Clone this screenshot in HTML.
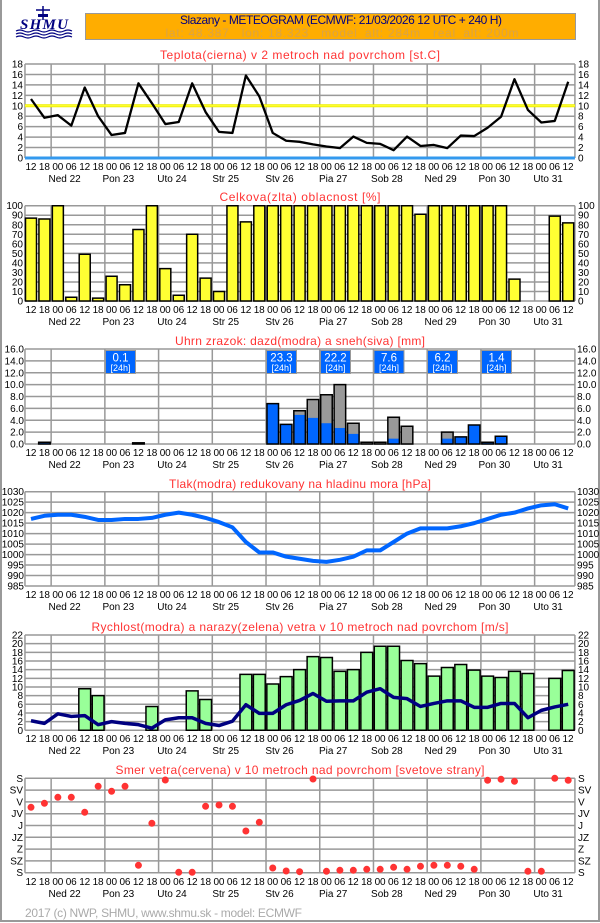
<!DOCTYPE html>
<html><head><meta charset="utf-8"><style>
html,body{margin:0;padding:0;background:#fff}
svg{display:block}
.t{font-family:"Liberation Sans",sans-serif;font-size:12px;fill:#ff3333;text-anchor:middle}
.l{font-family:"Liberation Sans",sans-serif;font-size:10px;fill:#000;text-anchor:end}
.r{font-family:"Liberation Sans",sans-serif;font-size:10px;fill:#000;text-anchor:start}
.h{font-family:"Liberation Sans",sans-serif;font-size:10px;fill:#000}
.d{font-family:"Liberation Sans",sans-serif;font-size:10px;fill:#000;text-anchor:middle}
.g{fill:none;stroke:#999;stroke-width:1.5;vector-effect:non-scaling-stroke}
.b rect,rect.b{stroke:#000;stroke-width:1.5;vector-effect:non-scaling-stroke}
</style></head><body>
<svg width="600" height="923" viewBox="0 0 600 923" xmlns="http://www.w3.org/2000/svg">
<rect x="1" y="-2" width="598" height="923" fill="none" stroke="#999" stroke-width="2"/>
<!-- logo -->
<g fill="#000080" stroke="#000080">
<line x1="43" y1="6" x2="43" y2="20" stroke-width="1.5"/>
<line x1="36" y1="10" x2="50" y2="10" stroke-width="1.5"/>
<rect x="38" y="14" width="10" height="3" stroke="none"/>
<text x="44" y="29" stroke="none" font-family="Liberation Serif,serif" font-weight="bold" font-style="italic" font-size="15" text-anchor="middle" textLength="48">SHMU</text>
<path d="M16 31q4-2 8 0t8 0t8 0t8 0t8 0t8 0t8 0M16 34q4-2 8 0t8 0t8 0t8 0t8 0t8 0t8 0M16 37q4-2 8 0t8 0t8 0t8 0t8 0t8 0t8 0" fill="none" stroke-width="1.2"/>
</g>
<!-- header -->
<rect x="85.5" y="13.5" width="490" height="26" fill="#ffad00" stroke="#999"/>
<text x="341" y="24" font-family="Liberation Sans,sans-serif" font-size="12" fill="#000080" text-anchor="middle" textLength="322">Slazany - METEOGRAM (ECMWF: 21/03/2026 12 UTC + 240 H)</text>
<text x="342" y="37" font-family="Liberation Sans,sans-serif" font-size="12" fill="#d9a347" text-anchor="middle" textLength="353" xml:space="preserve">lat: 48.387   lon: 18.323   model_alt: 284m   real_alt: 200m</text>

<!-- ============ TEMP ============ -->
<text class="t" x="300" y="59" textLength="280">Teplota(cierna) v 2 metroch nad povrchom [st.C]</text>
<g transform="translate(31,158) scale(13.43,-5.222)">
<path class="g" d="M-0.45 2H40.5M-0.45 4H40.5M-0.45 6H40.5M-0.45 8H40.5M-0.45 12H40.5M-0.45 14H40.5M-0.45 16H40.5M-0.45 18H40.5M-0.45 0V18M40.5 0V18M1.5 0V18M5.5 0V18M9.5 0V18M13.5 0V18M17.5 0V18M21.5 0V18M25.5 0V18M29.5 0V18M33.5 0V18M37.5 0V18"/>
<path d="M-0.45 10H40.5" stroke="#eeee00" stroke-width="3" vector-effect="non-scaling-stroke"/>
<path d="M-0.45 10H40.5" stroke="#ffff33" stroke-width="1.2" vector-effect="non-scaling-stroke"/>
<path d="M-0.45 0H40.5" stroke="#3399ee" stroke-width="3" vector-effect="non-scaling-stroke"/>
<polyline fill="none" stroke="#000" stroke-width="2.3" stroke-linejoin="round" vector-effect="non-scaling-stroke" points="0,11.3 1,7.7 2,8.2 3,6.2 4,13.5 5,8 6,4.4 7,4.8 8,14.3 9,10.5 10,6.5 11,6.9 12,14.3 13,8.8 14,5 15,4.8 16,15.8 17,11.8 18,4.8 19,3.3 20,3.1 21,2.6 22,2.2 23,1.9 24,4.1 25,2.9 26,2.7 27,1.5 28,4.1 29,2.3 30,2.5 31,1.9 32,4.3 33,4.2 34,5.8 35,7.9 36,15.1 37,9.2 38,6.8 39,7.1 40,14.6"/>
</g>
<g class="l"><text x="23" y="161.5">0</text><text x="23" y="151">2</text><text x="23" y="140.6">4</text><text x="23" y="130.2">6</text><text x="23" y="119.7">8</text><text x="23" y="109.3">10</text><text x="23" y="98.8">12</text><text x="23" y="88.4">14</text><text x="23" y="77.9">16</text><text x="23" y="67.5">18</text></g>
<g class="r"><text x="578" y="161.5">0</text><text x="578" y="151">2</text><text x="578" y="140.6">4</text><text x="578" y="130.2">6</text><text x="578" y="119.7">8</text><text x="578" y="109.3">10</text><text x="578" y="98.8">12</text><text x="578" y="88.4">14</text><text x="578" y="77.9">16</text><text x="578" y="67.5">18</text></g>
<text class="h" x="25.5" y="170" textLength="548" lengthAdjust="spacing">12 18 00 06 12 18 00 06 12 18 00 06 12 18 00 06 12 18 00 06 12 18 00 06 12 18 00 06 12 18 00 06 12 18 00 06 12 18 00 06 12</text>
<g class="d"><text x="64.6" y="182">Ned 22</text><text x="118.3" y="182">Pon 23</text><text x="172" y="182">Uto 24</text><text x="225.7" y="182">Str 25</text><text x="279.5" y="182">Stv 26</text><text x="333.2" y="182">Pia 27</text><text x="386.9" y="182">Sob 28</text><text x="440.6" y="182">Ned 29</text><text x="494.3" y="182">Pon 30</text><text x="548.1" y="182">Uto 31</text></g>

<!-- ============ CLOUD ============ -->
<text class="t" x="300" y="201" textLength="161">Celkova(zlta) oblacnost [%]</text>
<g transform="translate(31,301) scale(13.43,-0.953)">
<path class="g" d="M-0.45 10H40.5M-0.45 20H40.5M-0.45 30H40.5M-0.45 40H40.5M-0.45 50H40.5M-0.45 60H40.5M-0.45 70H40.5M-0.45 80H40.5M-0.45 90H40.5M-0.45 100H40.5M-0.45 0H40.5M-0.45 0V100M40.5 0V100M1.5 0V100M5.5 0V100M9.5 0V100M13.5 0V100M17.5 0V100M21.5 0V100M25.5 0V100M29.5 0V100M33.5 0V100M37.5 0V100"/>
<g fill="#ffff33" class="b">
<rect x="-0.41" width="0.82" height="87"/><rect x="0.59" width="0.82" height="86"/><rect x="1.59" width="0.82" height="100"/><rect x="2.59" width="0.82" height="4"/><rect x="3.59" width="0.82" height="49"/><rect x="4.59" width="0.82" height="3"/><rect x="5.59" width="0.82" height="26"/><rect x="6.59" width="0.82" height="17"/><rect x="7.59" width="0.82" height="75"/><rect x="8.59" width="0.82" height="100"/><rect x="9.59" width="0.82" height="34"/><rect x="10.59" width="0.82" height="6"/><rect x="11.59" width="0.82" height="70"/><rect x="12.59" width="0.82" height="24"/><rect x="13.59" width="0.82" height="10"/><rect x="14.59" width="0.82" height="100"/><rect x="15.59" width="0.82" height="83"/><rect x="16.59" width="0.82" height="100"/><rect x="17.59" width="0.82" height="100"/><rect x="18.59" width="0.82" height="100"/><rect x="19.59" width="0.82" height="100"/><rect x="20.59" width="0.82" height="100"/><rect x="21.59" width="0.82" height="100"/><rect x="22.59" width="0.82" height="100"/><rect x="23.59" width="0.82" height="100"/><rect x="24.59" width="0.82" height="100"/><rect x="25.59" width="0.82" height="100"/><rect x="26.59" width="0.82" height="100"/><rect x="27.59" width="0.82" height="100"/><rect x="28.59" width="0.82" height="91"/><rect x="29.59" width="0.82" height="100"/><rect x="30.59" width="0.82" height="100"/><rect x="31.59" width="0.82" height="100"/><rect x="32.59" width="0.82" height="100"/><rect x="33.59" width="0.82" height="100"/><rect x="34.59" width="0.82" height="100"/><rect x="35.59" width="0.82" height="23"/><rect x="38.59" width="0.82" height="89"/><rect x="39.59" width="0.82" height="82"/>
</g>
</g>
<g class="l"><text x="23" y="304.5">0</text><text x="23" y="295">10</text><text x="23" y="285.4">20</text><text x="23" y="275.9">30</text><text x="23" y="266.4">40</text><text x="23" y="256.9">50</text><text x="23" y="247.3">60</text><text x="23" y="237.8">70</text><text x="23" y="228.3">80</text><text x="23" y="218.7">90</text><text x="23" y="209.2">100</text></g>
<g class="r"><text x="578" y="304.5">0</text><text x="578" y="295">10</text><text x="578" y="285.4">20</text><text x="578" y="275.9">30</text><text x="578" y="266.4">40</text><text x="578" y="256.9">50</text><text x="578" y="247.3">60</text><text x="578" y="237.8">70</text><text x="578" y="228.3">80</text><text x="578" y="218.7">90</text><text x="578" y="209.2">100</text></g>
<text class="h" x="25.5" y="313" textLength="548" lengthAdjust="spacing">12 18 00 06 12 18 00 06 12 18 00 06 12 18 00 06 12 18 00 06 12 18 00 06 12 18 00 06 12 18 00 06 12 18 00 06 12 18 00 06 12</text>
<g class="d"><text x="64.6" y="325">Ned 22</text><text x="118.3" y="325">Pon 23</text><text x="172" y="325">Uto 24</text><text x="225.7" y="325">Str 25</text><text x="279.5" y="325">Stv 26</text><text x="333.2" y="325">Pia 27</text><text x="386.9" y="325">Sob 28</text><text x="440.6" y="325">Ned 29</text><text x="494.3" y="325">Pon 30</text><text x="548.1" y="325">Uto 31</text></g>

<!-- ============ PRECIP ============ -->
<text class="t" x="300" y="345" textLength="250">Uhrn zrazok: dazd(modra) a sneh(siva) [mm]</text>
<g transform="translate(31,444) scale(13.43,-5.9375)">
<path class="g" d="M-0.45 2H40.5M-0.45 4H40.5M-0.45 6H40.5M-0.45 8H40.5M-0.45 10H40.5M-0.45 12H40.5M-0.45 14H40.5M-0.45 16H40.5M-0.45 0H40.5M-0.45 0V16M40.5 0V16M1.5 0V16M5.5 0V16M9.5 0V16M13.5 0V16M17.5 0V16M21.5 0V16M25.5 0V16M29.5 0V16M33.5 0V16M37.5 0V16"/>
<g fill="#999999">
<rect x="19.57" width="0.86" height="5.6"/><rect x="20.57" width="0.86" height="7.5"/><rect x="21.57" width="0.86" height="8.3"/><rect x="22.57" width="0.86" height="10"/><rect x="23.57" width="0.86" height="3.5"/><rect x="26.57" width="0.86" height="4.5"/><rect x="27.57" width="0.86" height="3"/><rect x="30.57" width="0.86" height="2"/><rect x="24.57" width="0.86" height="0.3"/><rect x="25.57" width="0.86" height="0.3"/>
</g>
<g fill="#0066ff">
<rect x="0.57" width="0.86" height="0.3"/><rect x="17.57" width="0.86" height="6.8"/><rect x="18.57" width="0.86" height="3.3"/><rect x="19.57" width="0.86" height="4.9"/><rect x="20.57" width="0.86" height="4.4"/><rect x="21.57" width="0.86" height="3.5"/><rect x="22.57" width="0.86" height="2.7"/><rect x="23.57" width="0.86" height="1.7"/><rect x="26.57" width="0.86" height="0.9"/><rect x="30.57" width="0.86" height="0.9"/><rect x="31.57" width="0.86" height="1.2"/><rect x="32.57" width="0.86" height="3.2"/><rect x="33.57" width="0.86" height="0.3"/><rect x="34.57" width="0.86" height="1.3"/>
</g>
<rect x="7.57" width="0.86" height="0.2" fill="#000" class="b"/>
<g fill="none" class="b">
<rect x="0.57" width="0.86" height="0.3"/><rect x="17.57" width="0.86" height="6.8"/><rect x="18.57" width="0.86" height="3.3"/><rect x="19.57" width="0.86" height="5.6"/><rect x="20.57" width="0.86" height="7.5"/><rect x="21.57" width="0.86" height="8.3"/><rect x="22.57" width="0.86" height="10"/><rect x="23.57" width="0.86" height="3.5"/><rect x="24.57" width="0.86" height="0.3"/><rect x="25.57" width="0.86" height="0.3"/><rect x="26.57" width="0.86" height="4.5"/><rect x="27.57" width="0.86" height="3"/><rect x="30.57" width="0.86" height="2"/><rect x="31.57" width="0.86" height="1.2"/><rect x="32.57" width="0.86" height="3.2"/><rect x="33.57" width="0.86" height="0.3"/><rect x="34.57" width="0.86" height="1.3"/>
</g>
</g>
<g fill="#0066ff" stroke="#999" stroke-width="1">
<rect x="105.5" y="350.5" width="30" height="23"/><rect x="266.5" y="350.5" width="30" height="23"/><rect x="320.5" y="350.5" width="30" height="23"/><rect x="374" y="350.5" width="30" height="23"/><rect x="427.5" y="350.5" width="30" height="23"/><rect x="481.5" y="350.5" width="30" height="23"/>
</g>
<g font-family="Liberation Sans,sans-serif" fill="#fff" text-anchor="middle">
<g font-size="11.5"><text x="120.5" y="361.5">0.1</text><text x="281.5" y="361.5">23.3</text><text x="335.5" y="361.5">22.2</text><text x="389" y="361.5">7.6</text><text x="442.5" y="361.5">6.2</text><text x="496.5" y="361.5">1.4</text></g>
<g font-size="9"><text x="120.5" y="371">[24h]</text><text x="281.5" y="371">[24h]</text><text x="335.5" y="371">[24h]</text><text x="389" y="371">[24h]</text><text x="442.5" y="371">[24h]</text><text x="496.5" y="371">[24h]</text></g>
</g>
<g class="l"><text x="24" y="447.5">0.0</text><text x="24" y="435.6">2.0</text><text x="24" y="423.8">4.0</text><text x="24" y="411.9">6.0</text><text x="24" y="400">8.0</text><text x="24" y="388.1">10.0</text><text x="24" y="376.3">12.0</text><text x="24" y="364.4">14.0</text><text x="24" y="352.5">16.0</text></g>
<g class="r"><text x="577" y="447.5">0.0</text><text x="577" y="435.6">2.0</text><text x="577" y="423.8">4.0</text><text x="577" y="411.9">6.0</text><text x="577" y="400">8.0</text><text x="577" y="388.1">10.0</text><text x="577" y="376.3">12.0</text><text x="577" y="364.4">14.0</text><text x="577" y="352.5">16.0</text></g>
<text class="h" x="25.5" y="456" textLength="548" lengthAdjust="spacing">12 18 00 06 12 18 00 06 12 18 00 06 12 18 00 06 12 18 00 06 12 18 00 06 12 18 00 06 12 18 00 06 12 18 00 06 12 18 00 06 12</text>
<g class="d"><text x="64.6" y="468">Ned 22</text><text x="118.3" y="468">Pon 23</text><text x="172" y="468">Uto 24</text><text x="225.7" y="468">Str 25</text><text x="279.5" y="468">Stv 26</text><text x="333.2" y="468">Pia 27</text><text x="386.9" y="468">Sob 28</text><text x="440.6" y="468">Ned 29</text><text x="494.3" y="468">Pon 30</text><text x="548.1" y="468">Uto 31</text></g>

<!-- ============ PRESSURE ============ -->
<text class="t" x="300" y="488" textLength="262">Tlak(modra) redukovany na hladinu mora [hPa]</text>
<g transform="translate(31,586) scale(13.43,-2.0956)">
<path class="g" d="M-0.45 5H40.5M-0.45 10H40.5M-0.45 15H40.5M-0.45 20H40.5M-0.45 25H40.5M-0.45 30H40.5M-0.45 35H40.5M-0.45 40H40.5M-0.45 45H40.5M-0.45 0H40.5M-0.45 0V45M40.5 0V45M1.5 0V45M5.5 0V45M9.5 0V45M13.5 0V45M17.5 0V45M21.5 0V45M25.5 0V45M29.5 0V45M33.5 0V45M37.5 0V45"/>
<polyline fill="none" stroke="#0066ff" stroke-width="4" stroke-linejoin="round" vector-effect="non-scaling-stroke" points="0,32 1,33.5 2,34 3,34 4,33 5,31.5 6,31.5 7,32 8,32 9,32.5 10,34 11,35 12,34 13,32.5 14,30.5 15,28 16,21 17,16 18,16 19,14 20,13 21,12 22,11.5 23,12.5 24,14 25,17 26,17 27,21 28,25 29,27.5 30,27.5 31,27.5 32,28.5 33,30 34,32 35,34 36,35 37,37 38,38.5 39,39 40,37"/>
</g>
<g class="l"><text x="24" y="589.5">985</text><text x="24" y="579">990</text><text x="24" y="568.5">995</text><text x="24" y="558.1">1000</text><text x="24" y="547.6">1005</text><text x="24" y="537.1">1010</text><text x="24" y="526.6">1015</text><text x="24" y="516.2">1020</text><text x="24" y="505.7">1025</text><text x="24" y="495.2">1030</text></g>
<g class="r"><text x="577" y="589.5">985</text><text x="577" y="579">990</text><text x="577" y="568.5">995</text><text x="577" y="558.1">1000</text><text x="577" y="547.6">1005</text><text x="577" y="537.1">1010</text><text x="577" y="526.6">1015</text><text x="577" y="516.2">1020</text><text x="577" y="505.7">1025</text><text x="577" y="495.2">1030</text></g>
<text class="h" x="25.5" y="598" textLength="548" lengthAdjust="spacing">12 18 00 06 12 18 00 06 12 18 00 06 12 18 00 06 12 18 00 06 12 18 00 06 12 18 00 06 12 18 00 06 12 18 00 06 12 18 00 06 12</text>
<g class="d"><text x="64.6" y="610">Ned 22</text><text x="118.3" y="610">Pon 23</text><text x="172" y="610">Uto 24</text><text x="225.7" y="610">Str 25</text><text x="279.5" y="610">Stv 26</text><text x="333.2" y="610">Pia 27</text><text x="386.9" y="610">Sob 28</text><text x="440.6" y="610">Ned 29</text><text x="494.3" y="610">Pon 30</text><text x="548.1" y="610">Uto 31</text></g>

<!-- ============ WIND ============ -->
<text class="t" x="300" y="631" textLength="417">Rychlost(modra) a narazy(zelena) vetra v 10 metroch nad povrchom [m/s]</text>
<g transform="translate(31,730.3) scale(13.43,-4.332)">
<path class="g" d="M-0.45 2H40.5M-0.45 4H40.5M-0.45 6H40.5M-0.45 8H40.5M-0.45 10H40.5M-0.45 12H40.5M-0.45 14H40.5M-0.45 16H40.5M-0.45 18H40.5M-0.45 20H40.5M-0.45 22H40.5M-0.45 0H40.5M-0.45 0V22M40.5 0V22M1.5 0V22M5.5 0V22M9.5 0V22M13.5 0V22M17.5 0V22M21.5 0V22M25.5 0V22M29.5 0V22M33.5 0V22M37.5 0V22"/>
<g fill="#99ff99" class="b">
<rect x="3.56" width="0.88" height="9.6"/><rect x="4.56" width="0.88" height="8"/><rect x="8.56" width="0.88" height="5.5"/><rect x="11.56" width="0.88" height="9.1"/><rect x="12.56" width="0.88" height="7.1"/><rect x="15.56" width="0.88" height="12.9"/><rect x="16.56" width="0.88" height="12.9"/><rect x="17.56" width="0.88" height="10.7"/><rect x="18.56" width="0.88" height="12.4"/><rect x="19.56" width="0.88" height="14"/><rect x="20.56" width="0.88" height="17"/><rect x="21.56" width="0.88" height="16.8"/><rect x="22.56" width="0.88" height="13.6"/><rect x="23.56" width="0.88" height="14"/><rect x="24.56" width="0.88" height="18"/><rect x="25.56" width="0.88" height="19.4"/><rect x="26.56" width="0.88" height="19.4"/><rect x="27.56" width="0.88" height="16.1"/><rect x="28.56" width="0.88" height="15.4"/><rect x="29.56" width="0.88" height="12.5"/><rect x="30.56" width="0.88" height="14.5"/><rect x="31.56" width="0.88" height="15.2"/><rect x="32.56" width="0.88" height="13.9"/><rect x="33.56" width="0.88" height="12.5"/><rect x="34.56" width="0.88" height="12.2"/><rect x="35.56" width="0.88" height="13.6"/><rect x="36.56" width="0.88" height="13.1"/><rect x="38.56" width="0.88" height="12"/><rect x="39.56" width="0.88" height="13.8"/>
</g>
<polyline fill="none" stroke="#000080" stroke-width="3.5" stroke-linejoin="round" vector-effect="non-scaling-stroke" points="0,2.2 1,1.6 2,3.8 3,3.2 4,3.4 5,1.3 6,2 7,1.6 8,1.3 9,0.5 10,2.4 11,2.9 12,2.9 13,1.6 14,1.1 15,2.1 16,5.9 17,3.9 18,3.9 19,5.9 20,6.9 21,8.5 22,6.7 23,6.8 24,6.8 25,8.8 26,9.6 27,7.6 28,7.3 29,5.5 30,6.2 31,6.8 32,6.8 33,5.3 34,5.3 35,6.2 36,6.2 37,2.9 38,4.6 39,5.4 40,6"/>
</g>
<g class="l"><text x="23" y="733.8">0</text><text x="23" y="725.1">2</text><text x="23" y="716.5">4</text><text x="23" y="707.8">6</text><text x="23" y="699.1">8</text><text x="23" y="690.5">10</text><text x="23" y="681.8">12</text><text x="23" y="673.2">14</text><text x="23" y="664.5">16</text><text x="23" y="655.8">18</text><text x="23" y="647.2">20</text><text x="23" y="638.5">22</text></g>
<g class="r"><text x="578" y="733.8">0</text><text x="578" y="725.1">2</text><text x="578" y="716.5">4</text><text x="578" y="707.8">6</text><text x="578" y="699.1">8</text><text x="578" y="690.5">10</text><text x="578" y="681.8">12</text><text x="578" y="673.2">14</text><text x="578" y="664.5">16</text><text x="578" y="655.8">18</text><text x="578" y="647.2">20</text><text x="578" y="638.5">22</text></g>
<text class="h" x="25.5" y="742" textLength="548" lengthAdjust="spacing">12 18 00 06 12 18 00 06 12 18 00 06 12 18 00 06 12 18 00 06 12 18 00 06 12 18 00 06 12 18 00 06 12 18 00 06 12 18 00 06 12</text>
<g class="d"><text x="64.6" y="754">Ned 22</text><text x="118.3" y="754">Pon 23</text><text x="172" y="754">Uto 24</text><text x="225.7" y="754">Str 25</text><text x="279.5" y="754">Stv 26</text><text x="333.2" y="754">Pia 27</text><text x="386.9" y="754">Sob 28</text><text x="440.6" y="754">Ned 29</text><text x="494.3" y="754">Pon 30</text><text x="548.1" y="754">Uto 31</text></g>

<!-- ============ DIRECTION ============ -->
<text class="t" x="300" y="774" textLength="369">Smer vetra(cervena) v 10 metroch nad povrchom [svetove strany]</text>
<g transform="translate(31,0) scale(13.43,1)">
<path class="g" d="M-0.45 778.3H40.5M-0.45 790.1H40.5M-0.45 801.9H40.5M-0.45 813.7H40.5M-0.45 825.5H40.5M-0.45 837.3H40.5M-0.45 849.1H40.5M-0.45 860.9H40.5M-0.45 872.7H40.5M-0.45 778.3V872.7M40.5 778.3V872.7M1.5 778.3V872.7M5.5 778.3V872.7M9.5 778.3V872.7M13.5 778.3V872.7M17.5 778.3V872.7M21.5 778.3V872.7M25.5 778.3V872.7M29.5 778.3V872.7M33.5 778.3V872.7M37.5 778.3V872.7"/>
<path fill="none" stroke="#ff3333" stroke-width="7" stroke-linecap="round" vector-effect="non-scaling-stroke" d="M0 807.3h0M1 803.3h0M2 797.3h0M3 797.3h0M4 812.3h0M5 786.3h0M6 791.3h0M7 786.3h0M8 865.3h0M9 823.3h0M10 780h0M11 872.3h0M12 872.3h0M13 806.3h0M14 805h0M15 806.3h0M16 831h0M17 822.3h0M18 868h0M19 871h0M20 871.7h0M21 779h0M22 871.3h0M23 870.3h0M24 870.3h0M25 869.3h0M26 869.3h0M27 867.3h0M28 869.3h0M29 866.3h0M30 865.3h0M31 865.3h0M32 866.3h0M33 869.3h0M34 780.3h0M35 779.3h0M36 781.3h0M37 871.3h0M38 871.3h0M39 778.3h0M40 780.3h0"/>
</g>
<g class="l"><text x="23" y="781.8">S</text><text x="23" y="793.6">SV</text><text x="23" y="805.4">V</text><text x="23" y="817.2">JV</text><text x="23" y="829">J</text><text x="23" y="840.8">JZ</text><text x="23" y="852.6">Z</text><text x="23" y="864.4">SZ</text><text x="23" y="876.2">S</text></g>
<g class="r"><text x="578" y="781.8">S</text><text x="578" y="793.6">SV</text><text x="578" y="805.4">V</text><text x="578" y="817.2">JV</text><text x="578" y="829">J</text><text x="578" y="840.8">JZ</text><text x="578" y="852.6">Z</text><text x="578" y="864.4">SZ</text><text x="578" y="876.2">S</text></g>
<text class="h" x="25.5" y="885" textLength="548" lengthAdjust="spacing">12 18 00 06 12 18 00 06 12 18 00 06 12 18 00 06 12 18 00 06 12 18 00 06 12 18 00 06 12 18 00 06 12 18 00 06 12 18 00 06 12</text>
<g class="d"><text x="64.6" y="897">Ned 22</text><text x="118.3" y="897">Pon 23</text><text x="172" y="897">Uto 24</text><text x="225.7" y="897">Str 25</text><text x="279.5" y="897">Stv 26</text><text x="333.2" y="897">Pia 27</text><text x="386.9" y="897">Sob 28</text><text x="440.6" y="897">Ned 29</text><text x="494.3" y="897">Pon 30</text><text x="548.1" y="897">Uto 31</text></g>

<text x="25" y="917" font-family="Liberation Sans,sans-serif" font-size="12" fill="#aaaaaa" textLength="277">2017 (c) NWP, SHMU, www.shmu.sk - model: ECMWF</text>
</svg>
</body></html>
